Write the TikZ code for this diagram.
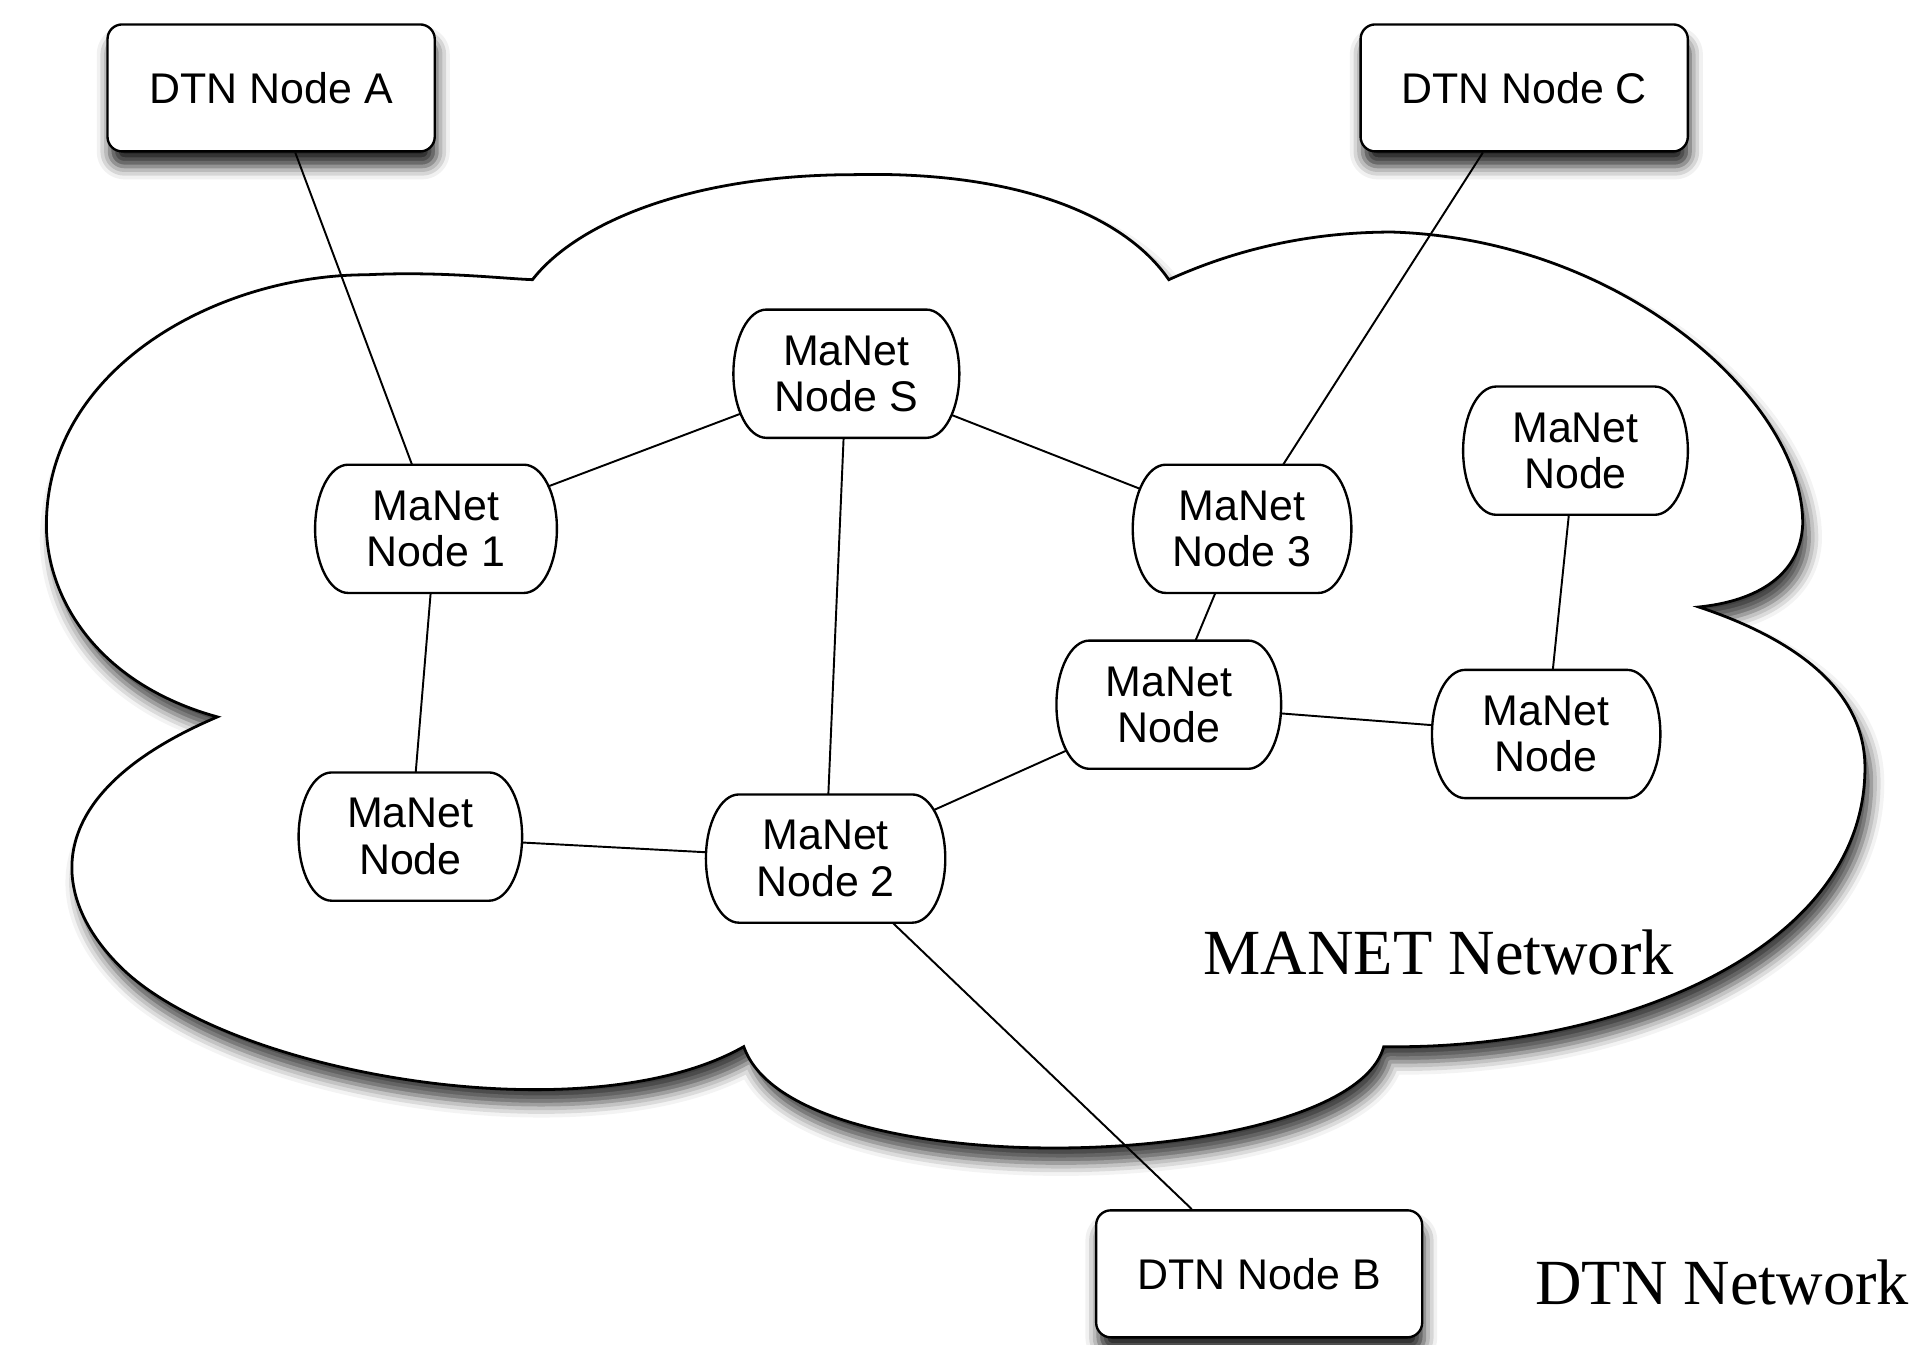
\documentclass[tikz,border=0pt]{standalone}
\usepackage{fontspec}
\setmainfont{Liberation Sans}
\newfontfamily\serifnet{Liberation Serif}
\usetikzlibrary{shapes.misc,shadows.blur,calc}
\pgfdeclarelayer{links}
\pgfdeclarelayer{shapes}
\pgfdeclarelayer{top}
\pgfsetlayers{main,links,shapes,top}
% barrel outline (half-elliptic ends) around a node; #1 name, #2 half width (px)
\newcommand\barrelshape[2]{%
  \begin{pgfonlayer}{shapes}
  \draw[barrelline] ($(#1.center)+(-#2+27,-52.5)$) -- ($(#1.center)+(#2-27,-52.5)$)
   .. controls ($(#1.center)+(#2-12.1,-52.5)$) and ($(#1.center)+(#2,-29)$) .. ($(#1.center)+(#2,0)$)
   .. controls ($(#1.center)+(#2,29)$) and ($(#1.center)+(#2-12.1,52.5)$) .. ($(#1.center)+(#2-27,52.5)$)
   -- ($(#1.center)+(-#2+27,52.5)$)
   .. controls ($(#1.center)+(-#2+12.1,52.5)$) and ($(#1.center)+(-#2,29)$) .. ($(#1.center)+(-#2,0)$)
   .. controls ($(#1.center)+(-#2,-29)$) and ($(#1.center)+(-#2+12.1,-52.5)$) .. cycle;
  \end{pgfonlayer}}
\begin{document}
\begin{tikzpicture}[x=0.02cm,y=-0.02cm,
  dtn/.style={draw, line width=1.1pt, rounded corners=0.24cm, fill=white,
    minimum width=5.36cm, minimum height=2.08cm,
    font=\fontsize{20}{22}\selectfont,
    blur shadow={shadow xshift=1pt, shadow yshift=-7pt, shadow blur radius=6pt, shadow opacity=85}},
  manet/.style={rounded rectangle, rounded rectangle arc length=100,
    minimum height=2.1cm, align=center, inner xsep=2pt,
    font=\fontsize{20}{21.6}\selectfont},
  barrelline/.style={draw, line width=1.1pt, fill=white},
  link/.style={line width=0.9pt},
  netlabel/.style={font=\serifnet\fontsize{30}{36}\selectfont}
]
\useasboundingbox (0,0) rectangle (1568,1101);

% cloud
\path[draw, line width=1.3pt, fill=white,
  blur shadow={shadow xshift=3pt, shadow yshift=-7pt, shadow blur radius=6pt, shadow opacity=75}]
 (436,229) .. controls (470,185) and (560,143) .. (700,143)
 .. controls (830,140) and (920,175) .. (957,229)
 .. controls (1010,205) and (1070,190) .. (1140,190)
 .. controls (1330,196) and (1478,330) .. (1476,430)
 .. controls (1474,470) and (1440,492) .. (1391,497)
 .. controls (1460,520) and (1528,560) .. (1527,630)
 .. controls (1526,780) and (1320,860) .. (1133,857)
 .. controls (1105,960) and (650,975) .. (609,857)
 .. controls (480,930) and (190,880) .. (100,793)
 .. controls (40,735) and (30,650) .. (178,587)
 .. controls (80,560) and (38,490) .. (38,430)
 .. controls (38,300) and (180,225) .. (300,225)
 .. controls (360,222) and (410,228) .. (436,229) -- cycle;

% DTN nodes
\node[dtn] (A) at (222,72) {DTN Node A};
\node[dtn] (C) at (1248,72) {DTN Node C};
\node[dtn, minimum width=5.34cm] (B) at (1031,1043) {DTN Node B};

% labels
\node[netlabel] (manetlbl) at (1178,780) {MANET Network};
\node[netlabel] (dtnlbl) at (1410,1050) {DTN Network};

% MANET nodes
\begin{pgfonlayer}{top}
\node[manet, minimum width=3.7cm]  (S)  at (693,306)  {MaNet\\Node S};
\node[manet, minimum width=3.96cm] (N1) at (357,433)  {MaNet\\Node 1};
\node[manet, minimum width=3.58cm] (N3) at (1017,433) {MaNet\\Node 3};
\node[manet, minimum width=3.68cm] (TR) at (1290,369) {MaNet\\Node};
\node[manet, minimum width=3.68cm] (M)  at (957,577)  {MaNet\\Node};
\node[manet, minimum width=3.74cm] (R)  at (1266,601) {MaNet\\Node};
\node[manet, minimum width=3.66cm] (LB) at (336,685)  {MaNet\\Node};
\node[manet, minimum width=3.92cm] (N2) at (676,703)  {MaNet\\Node 2};
\end{pgfonlayer}

\barrelshape{S}{92.5}
\barrelshape{N1}{99}
\barrelshape{N3}{89.5}
\barrelshape{TR}{92}
\barrelshape{M}{92}
\barrelshape{R}{93.5}
\barrelshape{LB}{91.5}
\barrelshape{N2}{98}

% connectors
\begin{pgfonlayer}{links}
\draw[link] (A) -- (N1);
\draw[link] (C) -- (N3);
\draw[link] (S) -- (N1);
\draw[link] (S) -- (N3);
\draw[link] (S) -- (N2);
\draw[link] (N1) -- (LB);
\draw[link] (LB) -- (N2);
\draw[link] (N2) -- (M);
\draw[link] (N3) -- (M);
\draw[link] (M) -- (R);
\draw[link] (TR) -- (R);
\draw[link] (N2) -- (B);
\end{pgfonlayer}
\end{tikzpicture}
\end{document}
